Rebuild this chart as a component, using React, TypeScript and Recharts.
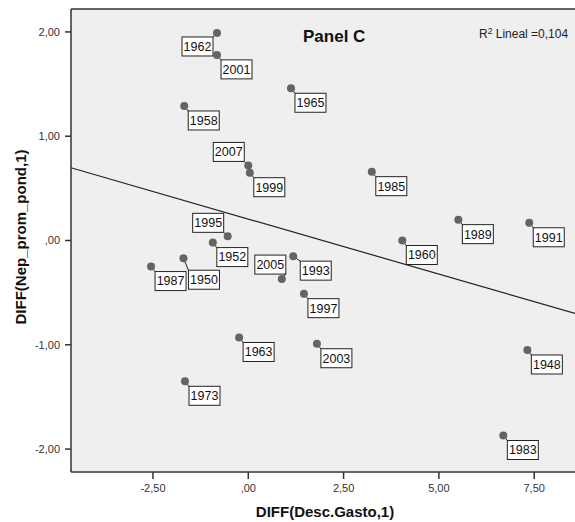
import { ScatterChart, Scatter, XAxis, YAxis, CartesianGrid, ReferenceLine, Customized } from "recharts";

// years shown in the boxes next to each point
const years = [1962, 2001, 1958, 2007, 1999, 1995, 1952, 1965, 1985, 1989, 1991, 1960, 1987, 1950, 2005, 1963, 1973, 1993, 1997, 2003, 1948, 1983];
// DIFF(Desc.Gasto,1)
const diffGasto = [-0.82, -0.82, -1.68, 0.0, 0.04, -0.54, -0.93, 1.12, 3.24, 5.51, 7.37, 4.04, -2.55, -1.7, 0.88, -0.24, -1.66, 1.18, 1.46, 1.8, 7.32, 6.69];
// DIFF(Nep_prom_pond,1)
const diffNep = [1.99, 1.78, 1.29, 0.72, 0.65, 0.04, -0.02, 1.46, 0.66, 0.2, 0.17, 0.0, -0.25, -0.17, -0.37, -0.93, -1.35, -0.15, -0.51, -0.99, -1.05, -1.87];

const xTicks = [-2.5, 0, 2.5, 5, 7.5];
const yTicks = [-2, -1, 0, 1, 2];
const xDomain: [number, number] = [-4.65, 8.57];
const yDomain: [number, number] = [-2.22, 2.22];

// linear fit
const fitIntercept = 0.206;
const fitSlope = -0.1057;
const rSquared = "0,104";

const points = years.map((year, i) => ({ year, x: diffGasto[i], y: diffNep[i] }));

// box offset from the dot (top-left corner), default is down-right
const labelOffset: Record<number, [number, number]> = {
  1962: [-35, 4],
  2007: [-35, -23],
  1995: [-35, -23],
  2005: [-27, -24],
  1950: [5, 12],
  1993: [7, 5],
};

const FONT = "'Liberation Sans', Arial, sans-serif";
const BOX_W = 31;
const BOX_H = 19;

const fmt = (v: number) => {
  const s = v.toFixed(2).replace(".", ",");
  return s.startsWith("0,") ? s.slice(1) : s;
};

function LabeledDot(props: any) {
  const { cx, cy, payload } = props;
  if (cx == null || cy == null) return null;
  const [dx, dy] = labelOffset[payload.year] ?? [4, 5];
  const bx = cx + dx;
  const by = cy + dy;
  // corner of the box closest to the dot
  const lx = dx < 0 ? bx + BOX_W : bx;
  const ly = dy < 0 ? by + BOX_H : by;
  return (
    <g>
      <line x1={cx} y1={cy} x2={lx} y2={ly} stroke="#222" strokeWidth={1} />
      <circle cx={cx} cy={cy} r={4} fill="#646464" />
      <rect x={bx} y={by} width={BOX_W} height={BOX_H} fill="#fff" stroke="#222" strokeWidth={1} />
      <text x={bx + BOX_W / 2} y={by + BOX_H / 2 + 4.4} textAnchor="middle" fontSize={12.5} fontFamily={FONT} fill="#111">
        {payload.year}
      </text>
    </g>
  );
}

function Texts() {
  return (
    <g fontFamily={FONT}>
      <text x={303} y={42} fontSize={17} fontWeight="bold" fill="#111">Panel C</text>
      <text x={479} y={38} fontSize={12} fill="#222">
        R<tspan fontSize={8.5} dy={-4.5}>2</tspan>
        <tspan dy={4.5}> Lineal ={rSquared}</tspan>
      </text>
      <text x={325} y={517} fontSize={15} fontWeight="bold" textAnchor="middle" fill="#111">DIFF(Desc.Gasto,1)</text>
      <text
        x={20}
        y={237}
        fontSize={15}
        fontWeight="bold"
        textAnchor="middle"
        dominantBaseline="central"
        transform="rotate(-90, 20, 237)"
        fill="#111"
      >
        DIFF(Nep_prom_pond,1)
      </text>
    </g>
  );
}

export default function App() {
  const axisStyle = { stroke: "#333", strokeWidth: 1.5 };
  return (
    <div style={{ position: "absolute", left: 0, top: 0, width: 575, height: 522, background: "#fff" }}>
      <ScatterChart width={575} height={522} margin={{ top: 9, right: 0, bottom: 0, left: 0 }}>
        <CartesianGrid horizontal={false} vertical={false} fill="#efefef" stroke="none" />
        <XAxis
          dataKey="x"
          type="number"
          domain={xDomain}
          ticks={xTicks}
          allowDataOverflow
          tickFormatter={fmt}
          height={50}
          axisLine={axisStyle}
          tickLine={axisStyle}
          tickSize={7}
          tickMargin={5}
          tick={{ fontSize: 11, fill: "#333", fontFamily: FONT }}
        />
        <YAxis
          dataKey="y"
          type="number"
          domain={yDomain}
          ticks={yTicks}
          allowDataOverflow
          tickFormatter={fmt}
          width={71}
          axisLine={axisStyle}
          tickLine={axisStyle}
          tickSize={6}
          tickMargin={5}
          tick={{ fontSize: 11, fill: "#333", fontFamily: FONT }}
        />
        <ReferenceLine y={yDomain[1]} stroke="#333" strokeWidth={1.5} />
        <ReferenceLine
          segment={[
            { x: xDomain[0], y: fitIntercept + fitSlope * xDomain[0] },
            { x: xDomain[1], y: fitIntercept + fitSlope * xDomain[1] },
          ]}
          stroke="#222"
          strokeWidth={1.2}
        />
        <Scatter data={points} shape={LabeledDot} isAnimationActive={false} />
        <Customized component={<Texts />} />
      </ScatterChart>
    </div>
  );
}
